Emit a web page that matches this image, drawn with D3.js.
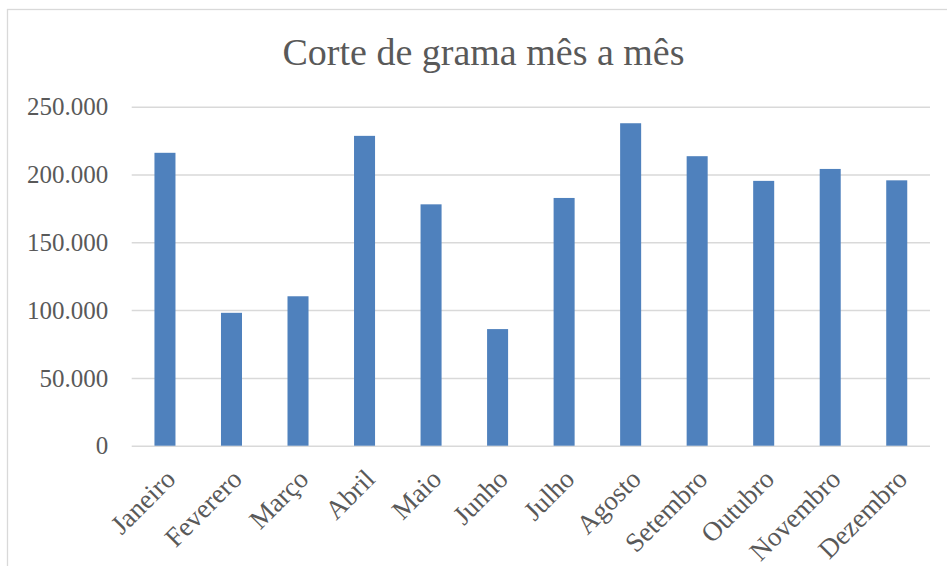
<!DOCTYPE html>
<html>
<head>
<meta charset="utf-8">
<script src="https://cdn.jsdelivr.net/npm/d3@7"></script>
<style>
  body { margin: 0; background: #fff; }
  svg { display: block; font-family: "Liberation Serif", "DejaVu Serif", serif; }
</style>
</head>
<body>
<div id="chart"></div>
<script>
// monthly data
var months = ["Janeiro", "Feverero", "Março", "Abril", "Maio", "Junho",
    "Julho", "Agosto", "Setembro", "Outubro", "Novembro", "Dezembro"];
var cortes = [216000, 98000, 110200, 228500, 178000, 86000,
    182700, 237800, 213500, 195300, 204100, 195700];
var yTicks = [0, 50000, 100000, 150000, 200000, 250000];
var title = "Corte de grama mês a mês";

var width = 947, height = 566;
var plotLeft = 131.7, plotRight = 930, plotTop = 106.7, plotBottom = 445.7;
var textColor = "#595959", gridColor = "#d9d9d9";

var svg = d3.select("#chart").append("svg")
    .attr("width", width).attr("height", height);

// chart border
svg.append("rect")
    .attr("x", 7.5).attr("y", 9.5)
    .attr("width", 1000).attr("height", 700)
    .attr("fill", "none")
    .attr("stroke", gridColor)
    .attr("stroke-width", 1.3);

var x = d3.scaleBand()
    .domain(months)
    .range([plotLeft, plotRight])
    .paddingInner(0.684)
    .paddingOuter(0.342);

var y = d3.scaleLinear()
    .domain([0, 250000])
    .range([plotBottom, plotTop]);

var pt = d3.formatLocale({decimal: ",", thousands: ".", grouping: [3], currency: ["R$", ""]});
var fmt = pt.format(",d");

// gridlines + y labels
var yAxis = svg.append("g")
    .attr("transform", "translate(" + plotLeft + ",0)")
    .call(d3.axisLeft(y).tickValues(yTicks).tickFormat(fmt)
        .tickSize(-(plotRight - plotLeft)).tickPadding(23.5));
yAxis.select(".domain").remove();
yAxis.selectAll(".tick line")
    .attr("stroke", gridColor)
    .attr("stroke-width", 1.5);
yAxis.selectAll(".tick text")
    .attr("fill", textColor)
    .attr("font-size", 25)
    .attr("font-family", "Liberation Serif")
    .attr("dy", "0.33em");

//bars
svg.selectAll("rect.bar")
    .data(cortes)
    .enter()
    .append("rect")
    .attr("class", "bar")
    .attr("fill", "#4f81bd")
    .attr("x", function (d, i) { return x(months[i]); })
    .attr("width", x.bandwidth())
    .attr("y", function (d) { return y(d); })
    .attr("height", function (d) { return y(0) - y(d); });

// x labels, rotated
var xAxis = svg.append("g")
    .attr("transform", "translate(0," + plotBottom + ")")
    .call(d3.axisBottom(x).tickSize(0).tickPadding(0));
xAxis.select(".domain").remove();
xAxis.selectAll(".tick text")
    .attr("fill", textColor)
    .attr("font-size", 27)
    .attr("font-family", "Liberation Serif")
    .attr("text-anchor", "end")
    .attr("dy", 0)
    .attr("y", 0)
    .attr("transform", "translate(12,35) rotate(-45)");

svg.append("text")
    .attr("x", 483.5)
    .attr("y", 65)
    .attr("text-anchor", "middle")
    .attr("fill", textColor)
    .attr("font-size", 38)
    .text(title);
</script>
</body>
</html>
